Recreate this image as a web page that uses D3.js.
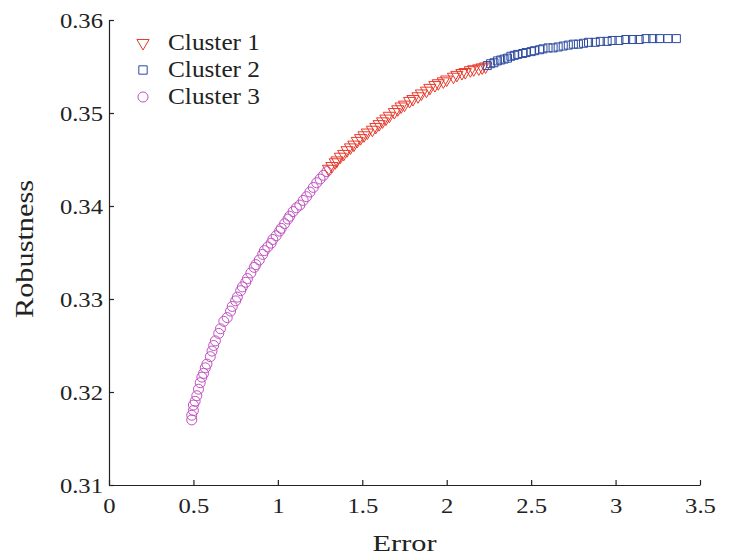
<!DOCTYPE html>
<html>
<head>
<meta charset="utf-8">
<script src="https://cdn.jsdelivr.net/npm/d3@7"></script>
<style>
  body { margin: 0; background: #fff; }
  svg text { font-family: "Liberation Serif", "Times New Roman", serif; fill: #222; }
</style>
</head>
<body>
<div id="app"></div>
<script>
// cluster 3 (circles)
const c3x = [0.49, 0.49, 0.50, 0.50, 0.51, 0.52, 0.53, 0.54, 0.55, 0.56, 0.57, 0.58, 0.60, 0.61, 0.62, 0.63, 0.65, 0.66, 0.68, 0.70, 0.72, 0.73, 0.75, 0.76, 0.78, 0.79, 0.81, 0.82, 0.84, 0.86, 0.87, 0.89, 0.91, 0.92, 0.94, 0.96, 0.97, 0.99, 1.01, 1.02, 1.04, 1.06, 1.07, 1.09, 1.11, 1.13, 1.15, 1.17, 1.19, 1.21, 1.23, 1.25, 1.27, 1.29];
const c3y = [0.3170, 0.3175, 0.3180, 0.3186, 0.3190, 0.3196, 0.3203, 0.3210, 0.3216, 0.3220, 0.3226, 0.3230, 0.3238, 0.3244, 0.3250, 0.3255, 0.3263, 0.3268, 0.3276, 0.3280, 0.3287, 0.3292, 0.3298, 0.3302, 0.3309, 0.3313, 0.3318, 0.3322, 0.3328, 0.3334, 0.3337, 0.3342, 0.3348, 0.3352, 0.3356, 0.3360, 0.3364, 0.3368, 0.3373, 0.3376, 0.3381, 0.3386, 0.3389, 0.3394, 0.3398, 0.3401, 0.3406, 0.3410, 0.3415, 0.3420, 0.3425, 0.3429, 0.3433, 0.3437];

// cluster 1 (triangles)
const c1x = [1.30, 1.32, 1.34, 1.35, 1.37, 1.39, 1.41, 1.43, 1.45, 1.47, 1.49, 1.51, 1.53, 1.56, 1.58, 1.60, 1.62, 1.64, 1.66, 1.69, 1.71, 1.73, 1.75, 1.78, 1.80, 1.83, 1.85, 1.88, 1.90, 1.93, 1.95, 1.98, 2.00, 2.04, 2.06, 2.09, 2.11, 2.14, 2.16, 2.19, 2.21, 2.23];
const c1y = [0.3440, 0.3443, 0.3447, 0.3449, 0.3453, 0.3456, 0.3460, 0.3463, 0.3466, 0.3470, 0.3473, 0.3476, 0.3479, 0.3482, 0.3485, 0.3488, 0.3491, 0.3494, 0.3497, 0.3501, 0.3504, 0.3507, 0.3509, 0.3513, 0.3515, 0.3518, 0.3521, 0.3524, 0.3527, 0.3530, 0.3532, 0.3534, 0.3536, 0.3539, 0.3541, 0.3543, 0.3544, 0.3546, 0.3547, 0.3548, 0.3549, 0.3550];

// cluster 2 (squares)
const c2x = [2.24, 2.26, 2.28, 2.30, 2.32, 2.34, 2.36, 2.38, 2.40, 2.42, 2.45, 2.47, 2.50, 2.52, 2.55, 2.57, 2.60, 2.63, 2.66, 2.69, 2.72, 2.75, 2.78, 2.81, 2.84, 2.88, 2.91, 2.95, 2.98, 3.02, 3.06, 3.10, 3.14, 3.18, 3.22, 3.26, 3.31, 3.36];
const c2y = [0.3551, 0.3553, 0.3554, 0.3556, 0.3557, 0.3558, 0.3559, 0.3561, 0.3562, 0.3563, 0.3564, 0.3565, 0.3566, 0.3567, 0.3568, 0.3569, 0.3570, 0.3570, 0.3571, 0.3572, 0.3573, 0.3574, 0.3574, 0.3575, 0.3576, 0.3576, 0.3577, 0.3577, 0.3578, 0.3578, 0.3579, 0.3579, 0.3579, 0.3580, 0.3580, 0.3580, 0.3580, 0.3580];

const xTicks = [0, 0.5, 1, 1.5, 2, 2.5, 3, 3.5];
const yTicks = [0.31, 0.32, 0.33, 0.34, 0.35, 0.36];
const legendNames = ["Cluster 1", "Cluster 2", "Cluster 3"];

const red = "#e8392a", blue = "#2c4a9e", purple = "#c050c0";

const width = 729, height = 557;
const svg = d3.select("#app").append("svg")
  .attr("width", width)
  .attr("height", height);

const x = d3.scaleLinear().domain([0, 3.5]).range([109, 700]);
const y = d3.scaleLinear().domain([0.31, 0.36]).range([485, 20]);

// stretch text a bit wider, the reference glyphs are wide
const widen = (sel, k) => sel.each(function () {
  const len = this.getComputedTextLength();
  d3.select(this).attr("textLength", len * k).attr("lengthAdjust", "spacingAndGlyphs");
});

//axes
const xAxis = svg.append("g")
  .attr("transform", "translate(0," + y(0.31) + ")")
  .call(d3.axisBottom(x).tickValues(xTicks).tickSizeInner(-5).tickSizeOuter(0).tickPadding(12).tickFormat(d3.format("")));
xAxis.selectAll("text").attr("font-size", 22).attr("dy", "0.72em");

const yAxis = svg.append("g")
  .attr("transform", "translate(" + x(0) + ",0)")
  .call(d3.axisLeft(y).tickValues(yTicks).tickSizeInner(-5).tickSizeOuter(0).tickPadding(6).tickFormat(d3.format(".2f")));
yAxis.selectAll("text").attr("font-size", 22);

svg.selectAll(".domain, .tick line").attr("stroke", "#222").attr("stroke-width", 1.2);
svg.selectAll(".tick text").attr("fill", "#222").attr("font-family", "Liberation Serif");
widen(svg.selectAll(".tick text"), 1.12);

//axis titles
svg.append("text")
  .attr("x", (x(0) + x(3.5)) / 2)
  .attr("y", 551)
  .attr("text-anchor", "middle")
  .attr("font-size", 24)
  .attr("textLength", 64)
  .attr("lengthAdjust", "spacingAndGlyphs")
  .text("Error");

svg.append("text")
  .attr("transform", "translate(33,249) rotate(-90)")
  .attr("text-anchor", "middle")
  .attr("font-size", 26)
  .attr("textLength", 138)
  .attr("lengthAdjust", "spacingAndGlyphs")
  .text("Robustness");

//markers
const tri = d3.symbol(d3.symbolTriangle, 64);
const sq = d3.symbol(d3.symbolSquare, 64);

svg.append("g").selectAll("circle")
  .data(d3.zip(c3x, c3y))
  .enter()
  .append("circle")
  .attr("cx", (d) => x(d[0]))
  .attr("cy", (d) => y(d[1]))
  .attr("r", 5)
  .attr("fill", "none")
  .attr("stroke", purple)
  .attr("stroke-width", 1);

svg.append("g").selectAll("path")
  .data(d3.zip(c1x, c1y))
  .enter()
  .append("path")
  .attr("d", tri)
  .attr("transform", (d) => "translate(" + x(d[0]) + "," + y(d[1]) + ") rotate(180)")
  .attr("fill", "none")
  .attr("stroke", red)
  .attr("stroke-width", 1);

svg.append("g").selectAll("path")
  .data(d3.zip(c2x, c2y))
  .enter()
  .append("path")
  .attr("d", sq)
  .attr("transform", (d) => "translate(" + x(d[0]) + "," + y(d[1]) + ")")
  .attr("fill", "none")
  .attr("stroke", blue)
  .attr("stroke-width", 1);

//legend
const legend = svg.append("g");
const legendSym = [
  d3.symbol(d3.symbolTriangle, 64)(),
  d3.symbol(d3.symbolSquare, 70)(),
  d3.symbol(d3.symbolCircle, 80)()
];
const legendRot = [180, 0, 0];
const legendColor = [red, blue, purple];

legend.selectAll("path")
  .data(legendNames)
  .enter()
  .append("path")
  .attr("d", (d, i) => legendSym[i])
  .attr("transform", (d, i) => "translate(143," + (43 + i * 27) + ") rotate(" + legendRot[i] + ")")
  .attr("fill", "none")
  .attr("stroke", (d, i) => legendColor[i])
  .attr("stroke-width", 1);

legend.selectAll("text")
  .data(legendNames)
  .enter()
  .append("text")
  .attr("x", 168)
  .attr("y", (d, i) => 50 + i * 27)
  .attr("font-size", 24)
  .attr("textLength", 92)
  .attr("lengthAdjust", "spacingAndGlyphs")
  .text((d) => d);
</script>
</body>
</html>
